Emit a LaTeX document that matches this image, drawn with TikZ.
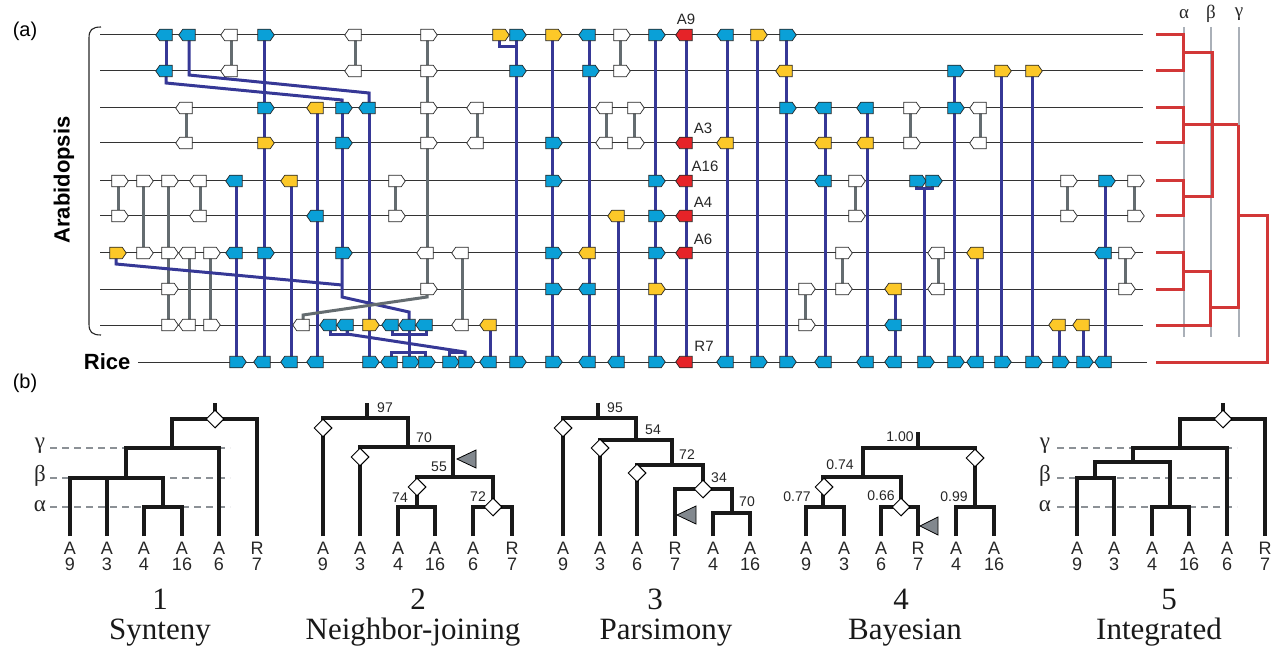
\documentclass[tikz,border=0pt]{standalone}
\usepackage{fontspec}
\setmainfont{Liberation Serif}
\setsansfont{Liberation Sans}
\usetikzlibrary{shapes.symbols,shapes.geometric,calc}
\definecolor{cB}{RGB}{10,160,215}
\definecolor{cY}{RGB}{252,200,40}
\definecolor{cR}{RGB}{230,35,40}
\definecolor{cW}{RGB}{255,255,255}
\definecolor{navy}{RGB}{54,56,150}
\definecolor{gconn}{RGB}{100,108,112}
\definecolor{redtree}{RGB}{210,55,55}
\definecolor{greyline}{RGB}{170,176,184}
\definecolor{dashgrey}{RGB}{140,145,150}
\definecolor{trigrey}{RGB}{130,136,142}
\pgfdeclarelayer{bg}\pgfdeclarelayer{mid}\pgfsetlayers{bg,mid,main}
\begin{document}
\begin{tikzpicture}[x=1pt,y=-1pt,
  mk/.style={signal,signal pointer angle=110,draw=black!85,line width=0.7pt,minimum width=16.5pt,minimum height=11.5pt,inner sep=0pt,outer sep=0pt},
  mkR/.style={mk,signal to=east},
  mkL/.style={mk,signal to=west},
  bl/.style={draw=navy,line width=3pt},
  gr/.style={draw=gconn,line width=3pt},
  rowln/.style={draw=black!80,line width=1pt},
  rt/.style={draw=redtree,line width=3pt,line join=miter},
  vg/.style={draw=greyline,line width=1.4pt},
  tr/.style={draw=black!90,line width=3.5pt,line join=miter},
  dsh/.style={draw=dashgrey,line width=1.3pt,dash pattern=on 7pt off 5pt},
  dm/.style={diamond,draw=black,fill=white,line width=1pt,minimum width=18pt,minimum height=18pt,inner sep=0pt},
  tri/.style={fill=trigrey,draw=black,line width=0.8pt,line join=miter},
  lab/.style={font=\sffamily\fontsize{15}{15}\selectfont,text=black!85},
  tn/.style={font=\sffamily\fontsize{14}{14}\selectfont,text=black!85},
  lf/.style={font=\sffamily\fontsize{18}{18}\selectfont,text=black!85},
  gk/.style={font=\fontsize{23}{23}\selectfont,text=black!85},
  ttl/.style={font=\fontsize{31}{31}\selectfont,text=black!90,anchor=base}]
\useasboundingbox (0,0) rectangle (1284,652);

% ---------- part (a) ----------
\node[font=\sffamily\fontsize{20}{20}\selectfont] (la) at (25,31) {(a)};
\node[font=\sffamily\fontsize{20}{20}\selectfont] (lb) at (25,383) {(b)};
\node[rotate=90,font=\sffamily\bfseries\fontsize{22}{22}\selectfont] (arab) at (64,180) {Arabidopsis};
\node[anchor=east,font=\sffamily\bfseries\fontsize{22}{22}\selectfont] (rice) at (134,362) {Rice};
\draw[line width=1.1pt,black!85] (101,27) .. controls (92,27) and (89,30) .. (89,38) -- (89,324) .. controls (89,332) and (92,335) .. (101,335);

\begin{pgfonlayer}{bg}
\foreach \r/\yy in {1/35,2/71,3/108,4/143,5/181,6/216,7/253,8/289,9/325}{
  \coordinate (a\r) at (100,\yy); \coordinate (b\r) at (1143,\yy);
  \draw[rowln] (a\r) -- (b\r);}
\coordinate (a10) at (138,362); \coordinate (b10) at (1147,362);
\draw[rowln] (a10) -- (b10);
\foreach \gx/\nm in {1184/al,1211/be,1239/ga}{
  \coordinate (\nm t) at (\gx,27); \coordinate (\nm b) at (\gx,337);
  \draw[vg] (\nm t) -- (\nm b);}
\end{pgfonlayer}

\foreach \r/\x/\d/\c in {
1/166/L/B,1/189/L/B,1/231/L/W,1/264/R/B,1/355/L/W,1/427/R/W,1/499/R/Y,1/516/R/B,1/552/R/Y,1/589/L/B,1/620/R/W,1/655/R/B,1/686/L/R,1/727/L/B,1/757/R/Y,1/786/R/B,
2/166/L/B,2/231/L/W,2/355/L/W,2/427/R/W,2/516/R/B,2/589/R/B,2/620/R/W,2/786/L/Y,2/954/R/B,2/1001/R/Y,2/1032/R/Y,
3/186/L/W,3/264/R/B,3/317/L/Y,3/342/R/B,3/369/L/B,3/427/R/W,3/477/L/W,3/606/L/W,3/634/R/W,3/786/R/B,3/825/L/B,3/867/L/B,3/910/R/W,3/954/R/B,3/980/L/W,
4/186/L/W,4/264/R/Y,4/342/R/B,4/427/R/W,4/477/L/W,4/552/R/B,4/606/L/W,4/634/R/W,4/686/L/R,4/727/L/Y,4/825/L/Y,4/867/L/Y,4/910/R/W,4/980/L/W,
5/118/R/W,5/143/R/W,5/168/R/W,5/200/L/W,5/236/L/B,5/291/L/Y,5/395/R/W,5/552/R/B,5/655/R/B,5/686/L/R,5/825/L/B,5/855/R/W,5/916/R/B,5/932/R/B,5/1067/R/W,5/1105/R/B,5/1134/R/W,
6/118/R/W,6/200/L/W,6/317/L/B,6/395/R/W,6/618/L/Y,6/655/R/B,6/686/L/R,6/855/R/W,6/1067/R/W,6/1134/R/W,
7/116/R/Y,7/143/R/W,7/168/R/W,7/189/L/W,7/210/R/W,7/236/L/B,7/264/R/B,7/342/R/B,7/427/L/W,7/462/L/W,7/552/R/B,7/589/L/Y,7/655/R/B,7/686/L/R,7/842/R/W,7/938/L/W,7/977/L/Y,7/1105/L/B,7/1125/R/W,
8/168/R/W,8/427/R/W,8/552/R/B,8/589/L/B,8/655/R/Y,8/805/R/W,8/842/R/W,8/895/L/Y,8/938/L/W,8/1125/R/W,
9/168/R/W,9/189/L/W,9/210/R/W,9/303/L/W,9/330/L/B,9/347/L/B,9/369/R/Y,9/392/L/B,9/409/L/B,9/426/L/B,9/462/L/W,9/490/L/Y,9/805/R/W,9/895/L/B,9/1059/L/Y,9/1083/L/Y,
10/236/R/B,10/264/L/B,10/291/L/B,10/317/L/B,10/369/R/B,10/391/L/B,10/409/R/B,10/425/R/B,10/449/R/B,10/465/R/B,10/490/L/B,10/516/R/B,10/552/R/B,10/589/L/B,10/618/L/B,10/655/R/B,10/686/L/R,10/727/L/B,10/757/R/B,10/786/R/B,10/825/L/B,10/867/L/B,10/895/L/B,10/924/R/B,10/954/R/B,10/977/L/B,10/1001/R/B,10/1032/R/B,10/1059/R/B,10/1083/R/B,10/1105/L/B}{
  \pgfmathtruncatemacro\yy{{35,71,108,143,181,216,253,289,325,362}[\r-1]}
  \node[mk\d,fill=c\c] (m\r x\x) at (\x,\yy) {};
}

\begin{pgfonlayer}{mid}
\foreach \a/\b in {1x264/10x264,5x236/10x236,5x291/10x291,3x317/10x317,3x369/10x369,1x166/2x166,3x342/7x342,9x409/10x409,9x490/10x490,1x516/10x516,1x552/10x552,1x589/10x589,6x618/10x618,1x655/10x655,1x686/10x686,1x727/10x727,1x757/10x757,1x786/10x786,3x825/10x825,3x867/10x867,8x895/10x895,2x954/10x954,7x977/10x977,2x1001/10x1001,2x1032/10x1032,9x1059/10x1059,9x1083/10x1083,5x1105/10x1105}
  \draw[bl] (m\a.center) -- (m\b.center);
\foreach \a/\b in {1x231/2x231,1x355/2x355,1x427/8x427,7x462/9x462,1x620/2x620,3x186/4x186,3x477/4x477,3x606/4x606,3x634/4x634,3x910/4x910,3x980/4x980,5x118/6x118,5x143/7x143,5x168/9x168,5x200/6x200,7x189/9x189,7x210/9x210,5x395/6x395,5x855/6x855,5x1067/6x1067,5x1134/6x1134,7x842/8x842,7x938/8x938,7x1125/8x1125,8x805/9x805}
  \draw[gr] (m\a.center) -- (m\b.center);
% bent connectors
\draw[bl,line join=miter] (m2x166.center) -- ++(0,12) -- ($(m3x342)+(0,-8)$) -- (m3x342.center);
\draw[bl,line join=miter] (m1x189.center) -- ++(0,40) -- ($(m3x369)+(0,-15)$) -- (m3x369.center);
\draw[bl,line join=miter] (m7x342.center) -- ++(0,44) -- ($(m9x409)+(0,-13)$) -- (m9x409.center);
\draw[bl,line join=miter] (m7x116.center) -- ++(0,11) -- ($(m7x342)+(0,32)$);
\draw[gr,line join=miter] (m8x427.center) -- ++(0,8) -- ($(m9x303)+(0,-10)$) -- (m9x303.center);
\draw[bl,line join=miter] (m1x499.center) -- ++(0,12) -| (m1x516.center);
\draw[bl,line join=miter] (m5x916.center) -- ++(0,8) -| (m5x932.center);
\draw[bl] (m10x924.center) -- ($(m10x924 |- m5x916)+(0,8)$);
\draw[bl,line join=miter] (m9x330.center) -- ++(0,9) -| (m9x347.center);
\draw[bl,line join=miter] (m9x347.center) -- ++(0,9) -- ($(m10x465)+(0,-10)$) -- (m10x465.center);
\draw[bl,line join=miter] (m10x449.center) -- ++(0,-10) -- ($(m10x465)+(0,-10)$);
\draw[bl,line join=miter] (m9x392.center) -- ++(0,9) -| (m9x426.center);
\draw[bl,line join=miter] (m10x391.center) -- ++(0,-10) -| (m10x425.center);
\end{pgfonlayer}

% red gene labels
\node[lab] (tA9) at (686,19) {A9};
\node[lab] (tA3) at (703,128) {A3};
\node[lab] (tA16) at (705,166) {A16};
\node[lab] (tA4) at (703,202) {A4};
\node[lab] (tA6) at (703,239) {A6};
\node[lab] (tR7) at (704,346) {R7};

% red synteny tree
\draw[rt] (1156,35) -| (1183,71) -- (1156,71);
\draw[rt] (1156,108) -| (1183,143) -- (1156,143);
\draw[rt] (1156,181) -| (1183,216) -- (1156,216);
\draw[rt] (1156,253) -| (1183,289) -- (1156,289);
\draw[rt] (1183,53) -| (1212,197) -- (1183,197);
\draw[rt] (1183,125) -- (1238,125);
\draw[rt] (1183,271) -| (1210,325) -- (1156,325);
\draw[rt] (1210,307) -| (1238,125);
\draw[rt] (1238,216) -| (1267,362) -- (1156,362);
\node[gk,font=\fontsize{19}{19}\selectfont] (ga) at (1184,14) {α};
\node[gk,font=\fontsize{19}{19}\selectfont] (gb) at (1211,14) {β};
\node[gk,font=\fontsize{19}{19}\selectfont] (gg) at (1239,14) {γ};

% ---------- part (b) ----------
\foreach \x/\xe/\gx in {50/230/40,1057/1237/1045}{
  \draw[dsh] (\x,448) -- (\xe,448);
  \draw[dsh] (\x,478) -- (\xe,478);
  \draw[dsh] (\x,507) -- (\xe,507);
  \node[gk] at (\gx,446) {γ};
  \node[gk] at (\gx,476) {β};
  \node[gk] at (\gx,506) {α};
}
% tree 1
\draw[tr] (70,536) -- (70,478) -- (163,478) -- (163,507);
\draw[tr] (144,536) -- (144,507) -- (182,507) -- (182,536);
\draw[tr] (107,536) -- (107,478);
\draw[tr] (126,478) -- (126,448) -- (219,448) -- (219,536);
\draw[tr] (172,448) -- (172,419) -- (257,419) -- (257,536);
\draw[tr] (215,403) -- (215,419);
\node[dm] at (215,419) {};
% tree 2
\draw[tr] (367,403) -- (367,418);
\draw[tr] (323,536) -- (323,418) -- (408,418) -- (408,447);
\draw[tr] (360,536) -- (360,447) -- (453,447) -- (453,477);
\draw[tr] (417,507) -- (417,477) -- (493,477) -- (493,507);
\draw[tr] (398,536) -- (398,507) -- (435,507) -- (435,536);
\draw[tr] (473,536) -- (473,507) -- (512,507) -- (512,536);
\node[dm] at (323,428) {};
\node[dm] at (360,457) {};
\node[dm] at (417,487) {};
\node[dm] at (493,507) {};
\draw[tri] (457,459) -- (476,450) -- (476,468) -- cycle;
\node[tn] at (385,408) {97};
\node[tn] at (424,438) {70};
\node[tn] at (439,467) {55};
\node[tn] at (400,498) {74};
\node[tn] at (478,497) {72};
% tree 3
\draw[tr] (598,403) -- (598,418);
\draw[tr] (563,536) -- (563,418) -- (636,418) -- (636,440);
\draw[tr] (600,536) -- (600,440) -- (672,440) -- (672,465);
\draw[tr] (637,536) -- (637,465) -- (703,465) -- (703,489);
\draw[tr] (675,536) -- (675,489) -- (732,489) -- (732,513);
\draw[tr] (713,536) -- (713,513) -- (750,513) -- (750,536);
\node[dm] at (563,428) {};
\node[dm] at (600,448) {};
\node[dm] at (637,473) {};
\node[dm] at (703,489) {};
\draw[tri] (677,515) -- (696,506) -- (696,524) -- cycle;
\node[tn] at (615,408) {95};
\node[tn] at (653,430) {54};
\node[tn] at (687,455) {72};
\node[tn] at (719,478) {34};
\node[tn] at (747,502) {70};
% tree 4
\draw[tr] (918,432) -- (918,448);
\draw[tr] (863,477) -- (863,448) -- (975,448) -- (975,507);
\draw[tr] (823,507) -- (823,477) -- (901,477) -- (901,507);
\draw[tr] (806,536) -- (806,507) -- (844,507) -- (844,536);
\draw[tr] (881,536) -- (881,507) -- (918,507) -- (918,536);
\draw[tr] (956,536) -- (956,507) -- (994,507) -- (994,536);
\node[dm] at (975,458) {};
\node[dm] at (824,487) {};
\node[dm] at (901,507) {};
\draw[tri] (920,526) -- (938,517) -- (938,535) -- cycle;
\node[tn] at (900,437) {1.00};
\node[tn] at (840,465) {0.74};
\node[tn] at (797,497) {0.77};
\node[tn] at (881,496) {0.66};
\node[tn] at (954,497) {0.99};
% tree 5
\draw[tr] (1077,536) -- (1077,478) -- (1114,478) -- (1114,536);
\draw[tr] (1095,478) -- (1095,462) -- (1170,462) -- (1170,507);
\draw[tr] (1152,536) -- (1152,507) -- (1189,507) -- (1189,536);
\draw[tr] (1133,462) -- (1133,448) -- (1227,448) -- (1227,536);
\draw[tr] (1180,448) -- (1180,419) -- (1265,419) -- (1265,536);
\draw[tr] (1223,403) -- (1223,419);
\node[dm] at (1223,419) {};
% leaf labels
\foreach \x/\p/\n in {70/A/9,107/A/3,144/A/4,182/A/16,219/A/6,257/R/7,
 323/A/9,360/A/3,398/A/4,435/A/16,473/A/6,512/R/7,
 563/A/9,600/A/3,637/A/6,675/R/7,713/A/4,750/A/16,
 806/A/9,844/A/3,881/A/6,918/R/7,956/A/4,994/A/16,
 1077/A/9,1114/A/3,1152/A/4,1189/A/16,1227/A/6,1265/R/7}{
  \node[lf] at (\x,548) {\p};
  \node[lf] at (\x,564) {\n};
}
% numbers and titles
\foreach \x/\n in {160/1,418/2,655/3,901/4,1169/5}
  \node[ttl] at (\x,609) {\n};
\node[ttl] at (160,639) {Synteny};
\node[ttl] at (413,639) {Neighbor-joining};
\node[ttl] at (666,639) {Parsimony};
\node[ttl] at (905,639) {Bayesian};
\node[ttl] at (1159,639) {Integrated};
\end{tikzpicture}
\end{document}
